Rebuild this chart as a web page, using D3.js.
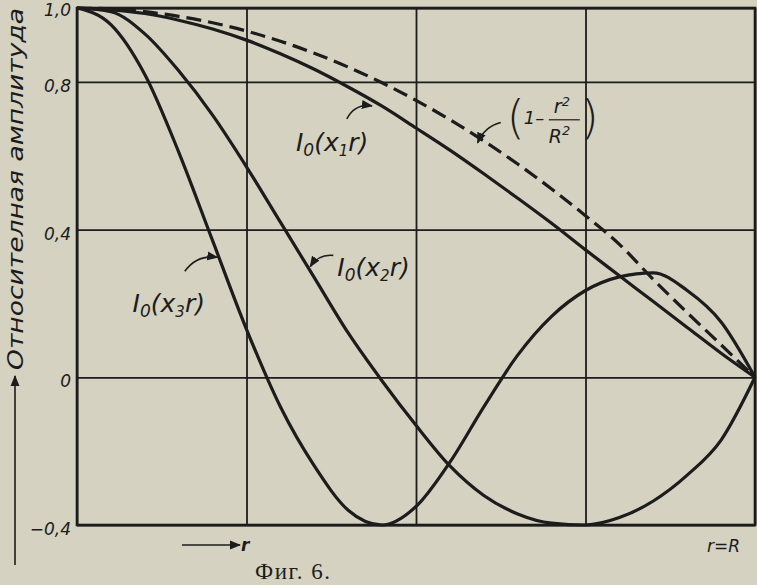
<!DOCTYPE html>
<html>
<head>
<meta charset="utf-8">
<script src="https://cdn.jsdelivr.net/npm/d3@7"></script>
<style>
  body { margin: 0; background: #d5d2c1; }
  svg { display: block; }
  .grid line { stroke: #1c1c1c; stroke-width: 1.8; }
  .grid path { display: none; }
  .tick-label { font-family: "DejaVu Sans", sans-serif; font-style: italic; font-size: 17px; fill: #1c1c1c; }
  .note { font-family: "DejaVu Sans", sans-serif; font-style: italic; fill: #1c1c1c; }
</style>
</head>
<body>
<div id="main"></div>
<script>
/*********************************************************
 * Data
 *********************************************************/
const rValues = [0, 0.05, 0.1, 0.15, 0.2, 0.25, 0.3, 0.35, 0.4, 0.45, 0.5,
  0.55, 0.6, 0.65, 0.7, 0.75, 0.8, 0.85, 0.9, 0.95, 1.0];

// I0(x1 r)
const modeOne = [1.0, 0.995, 0.985, 0.967, 0.943, 0.913, 0.876, 0.834, 0.786, 0.734, 0.675,
  0.615, 0.551, 0.485, 0.417, 0.345, 0.275, 0.205, 0.135, 0.065, 0];
// I0(x2 r)
const modeTwo = [1.0, 0.99, 0.93, 0.83, 0.71, 0.57, 0.42, 0.27, 0.12, -0.01, -0.13,
  -0.24, -0.32, -0.37, -0.395, -0.40, -0.38, -0.335, -0.265, -0.17, 0];
// I0(x3 r)
const modeThree = [1.0, 0.955, 0.82, 0.61, 0.37, 0.13, -0.08, -0.24, -0.36, -0.40, -0.35,
  -0.23, -0.08, 0.06, 0.165, 0.235, 0.272, 0.283, 0.235, 0.15, 0];
// 1 - r^2/R^2 (dashed)
const parabola = [1.0, 0.9975, 0.99, 0.9775, 0.96, 0.9375, 0.91, 0.8775, 0.84, 0.7975, 0.75,
  0.6975, 0.64, 0.5775, 0.51, 0.4375, 0.36, 0.265, 0.175, 0.088, 0];

const yTicks = [1.0, 0.8, 0.4, 0, -0.4];
const yTickLabels = ['1,0', '0,8', '0,4', '0', '\u22120,4'];
const xGrid = [0, 0.25, 0.5, 0.75, 1];

/*********************************************************
 * Layout
 *********************************************************/
const svgWidth = 757;
const svgHeight = 585;
const plot = { l: 77, r: 755, t: 8, b: 525 };

const svg = d3.select('#main')
  .append('svg')
  .attr('width', svgWidth)
  .attr('height', svgHeight);

svg.append('rect')
  .attr('width', svgWidth)
  .attr('height', svgHeight)
  .attr('fill', '#d5d2c1');

const x = d3.scaleLinear().domain([0, 1]).range([plot.l, plot.r]);
const y = d3.scaleLinear().domain([-0.4, 1]).range([plot.b, plot.t]);

const ink = '#1c1c1c';

// arrowhead
svg.append('defs').append('marker')
  .attr('id', 'head')
  .attr('viewBox', '0 0 10 10')
  .attr('refX', 9).attr('refY', 5)
  .attr('markerWidth', 7).attr('markerHeight', 7)
  .attr('orient', 'auto')
  .append('path')
  .attr('d', 'M0,1 L10,5 L0,9 Z')
  .attr('fill', ink);

/*********************************************************
 * Grid and frame
 *********************************************************/
svg.append('g')
  .attr('class', 'grid')
  .attr('transform', `translate(${plot.l},0)`)
  .call(d3.axisLeft(y).tickValues(yTicks).tickSize(-(plot.r - plot.l)).tickFormat(''));

svg.append('g')
  .attr('class', 'grid')
  .attr('transform', `translate(0,${plot.b})`)
  .call(d3.axisBottom(x).tickValues(xGrid).tickSize(plot.b - plot.t).tickFormat(''))
  .selectAll('line')
  .attr('y2', -(plot.b - plot.t));

svg.append('rect')
  .attr('x', x(0)).attr('y', y(1))
  .attr('width', x(1) - x(0)).attr('height', y(-0.4) - y(1))
  .attr('fill', 'none')
  .attr('stroke', ink)
  .attr('stroke-width', 2.6);

// y tick labels
svg.selectAll('.tick-label')
  .data(yTicks)
  .enter().append('text')
  .attr('class', 'tick-label')
  .attr('x', plot.l - 6)
  .attr('y', d => y(d) + (d === 1 ? 8 : 10))
  .attr('text-anchor', 'end')
  .text((d, i) => yTickLabels[i]);

/*********************************************************
 * Curves
 *********************************************************/
const line = d3.line()
  .x((d, i) => x(rValues[i]))
  .y(d => y(d))
  .curve(d3.curveMonotoneX);

[modeOne, modeTwo, modeThree].forEach(series => {
  svg.append('path')
    .attr('d', line(series))
    .attr('fill', 'none')
    .attr('stroke', ink)
    .attr('stroke-width', 3.2)
    .attr('stroke-linejoin', 'round');
});

svg.append('path')
  .attr('d', line(parabola))
  .attr('fill', 'none')
  .attr('stroke', ink)
  .attr('stroke-width', 3.2)
  .attr('stroke-dasharray', '15,7');

/*********************************************************
 * Labels and pointers
 *********************************************************/
function besselLabel(px, py, sub) {
  const t = svg.append('text')
    .attr('class', 'note')
    .attr('x', px).attr('y', py)
    .style('font-size', '25px');
  t.append('tspan').text('I');
  t.append('tspan').attr('dy', 5).style('font-size', '17px').text('0');
  t.append('tspan').attr('dy', -5).text('(x');
  t.append('tspan').attr('dy', 5).style('font-size', '15px').text(sub);
  t.append('tspan').attr('dy', -5).text('r)');
}

function pointer(x0, y0, x1, y1, bend) {
  const mx = (x0 + x1) / 2, my = (y0 + y1) / 2;
  const dx = x1 - x0, dy = y1 - y0;
  const cx = mx - dy * bend, cy = my + dx * bend;
  svg.append('path')
    .attr('d', `M${x0},${y0} Q${cx},${cy} ${x1},${y1}`)
    .attr('fill', 'none')
    .attr('stroke', ink)
    .attr('stroke-width', 1.6)
    .attr('marker-end', 'url(#head)');
}

// I0(x1 r)
besselLabel(x(0.323), y(0.612), '1');
pointer(x(0.398), y(0.70), x(0.435), y(0.735), -0.35);

// I0(x2 r)
besselLabel(x(0.384), y(0.275), '2');
pointer(x(0.378), y(0.33), x(0.344), y(0.30), 0.3);

// I0(x3 r)
besselLabel(x(0.082), y(0.178), '3');
pointer(x(0.159), y(0.287), x(0.207), y(0.325), -0.3);

// (1 - r^2/R^2)
const fx = x(0.634);
const fy = y(0.70);
svg.append('text').attr('class', 'note')
  .attr('x', fx).attr('y', fy + 14)
  .style('font-size', '46px').style('font-style', 'normal').style('font-weight', '300')
  .text('(');
svg.append('text').attr('class', 'note')
  .attr('x', fx + 17).attr('y', fy + 5)
  .style('font-size', '18px')
  .text('1\u2013');
const num = svg.append('text').attr('class', 'note')
  .attr('x', fx + 47).attr('y', fy - 6)
  .style('font-size', '19px');
num.append('tspan').text('r');
num.append('tspan').attr('dy', -7).style('font-size', '13px').text('2');
svg.append('line')
  .attr('x1', fx + 42).attr('x2', fx + 73)
  .attr('y1', fy + 1).attr('y2', fy + 1)
  .attr('stroke', ink).attr('stroke-width', 1.2);
const den = svg.append('text').attr('class', 'note')
  .attr('x', fx + 42).attr('y', fy + 24)
  .style('font-size', '19px');
den.append('tspan').text('R');
den.append('tspan').attr('dy', -8).style('font-size', '13px').text('2');
svg.append('text').attr('class', 'note')
  .attr('x', fx + 74).attr('y', fy + 14)
  .style('font-size', '46px').style('font-style', 'normal').style('font-weight', '300')
  .text(')');
pointer(x(0.625), y(0.69), x(0.591), y(0.635), 0.25);

/*********************************************************
 * Axis captions
 *********************************************************/
// vertical arrow + title
svg.append('line')
  .attr('x1', 15).attr('x2', 15)
  .attr('y1', 565).attr('y2', 376)
  .attr('stroke', ink).attr('stroke-width', 1.6)
  .attr('marker-end', 'url(#head)');
svg.append('text')
  .attr('class', 'note')
  .attr('transform', 'translate(23,370) rotate(-90)')
  .style('font-size', '22px')
  .attr('textLength', 362)
  .attr('lengthAdjust', 'spacingAndGlyphs')
  .text('Относителная амплитуда');

// r arrow at bottom
svg.append('line')
  .attr('x1', 182).attr('x2', 240)
  .attr('y1', 545).attr('y2', 545)
  .attr('stroke', ink).attr('stroke-width', 1.6)
  .attr('marker-end', 'url(#head)');
svg.append('text').attr('class', 'note')
  .attr('x', 241).attr('y', 551)
  .style('font-size', '17px').style('font-weight', 'bold')
  .text('r');
svg.append('text').attr('class', 'note')
  .attr('x', 740).attr('y', 552)
  .attr('text-anchor', 'end')
  .style('font-size', '17px')
  .text('r=R');

svg.append('text')
  .attr('x', 255).attr('y', 579)
  .style('font-family', '"Liberation Serif", "DejaVu Serif", serif')
  .style('font-size', '23px')
  .style('letter-spacing', '1.5px')
  .attr('fill', ink)
  .text('Фиг. 6.');
</script>
</body>
</html>
